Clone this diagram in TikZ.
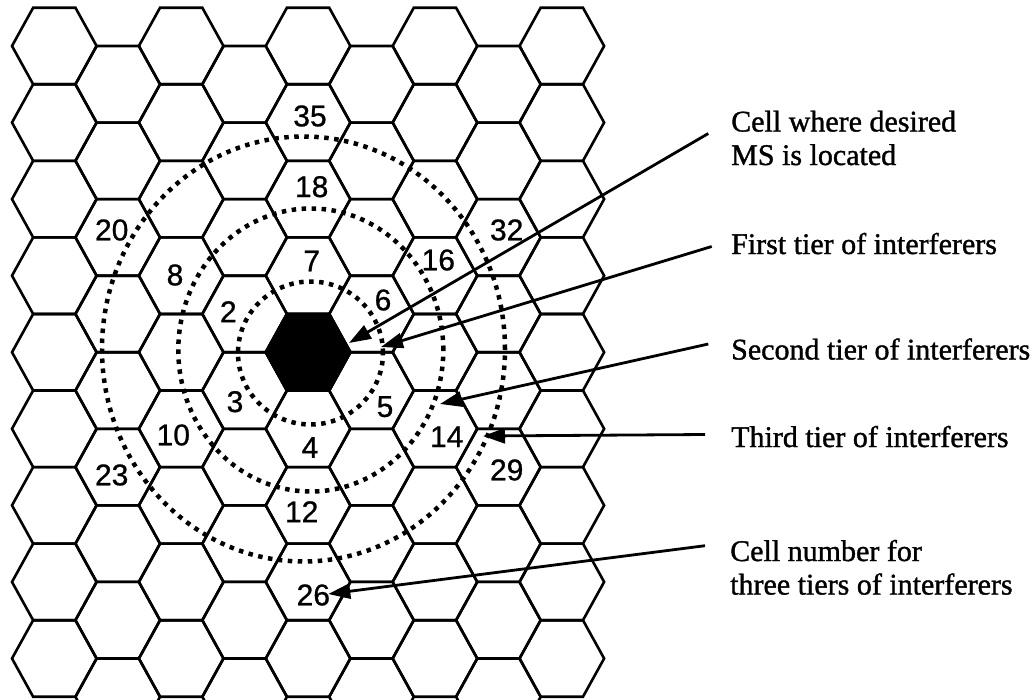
\documentclass[tikz,border=0pt]{standalone}
\usepackage{fontspec}
\setmainfont{Liberation Serif}
\newfontfamily\legendfont[FakeBold=1.2]{Liberation Serif}
\newfontfamily\numfont[FakeBold=0.8]{Liberation Sans}
\usetikzlibrary{arrows.meta}
\begin{document}
\begin{tikzpicture}[x=1pt,y=-1pt,
  cell/.style={draw=black,line width=2.6pt},
  mscell/.style={cell,fill=black},
  tier/.style={draw=black,line width=4.5pt,dash pattern=on 4.5pt off 5.5pt},
  pointer/.style={draw=black,line width=2.8pt,-{Triangle[length=22pt,width=15pt]}},
  cellno/.style={font=\numfont\fontsize{30}{30}\selectfont,inner sep=0pt},
  legend/.style={font=\legendfont\fontsize{30}{33}\selectfont,inner sep=0pt,anchor=base west}]

\useasboundingbox (0,0) rectangle (1036,699);
\def\hexR{42.3}
\def\hexH{38.28}
\def\colstep{63.44}
\def\rowstep{76.56}

% hexagonal cell grid (flat-top cells, odd columns shifted down by half a cell)
\begin{scope}
  \clip (0,0) rectangle (1036,699);
  \foreach \i in {0,...,8}{
    \pgfmathsetmacro\cx{54.3+\colstep*\i}
    \pgfmathsetmacro\oy{mod(\i,2)==1 ? 84.3 : 46}
    \foreach \k in {0,...,8}{
      \pgfmathsetmacro\cy{\oy+\rowstep*\k}
      \draw[cell] (\cx-\hexR,\cy) -- ++(\hexR/2,-\hexH) -- ++(\hexR,0)
        -- ++(\hexR/2,\hexH) -- ++(-\hexR/2,\hexH) -- ++(-\hexR,0) -- cycle;
    }
  }
\end{scope}

% cell of the desired mobile station
\draw[mscell] (308.1-\hexR,352.2) -- ++(\hexR/2,-\hexH) -- ++(\hexR,0)
  -- ++(\hexR/2,\hexH) -- ++(-\hexR/2,\hexH) -- ++(-\hexR,0) -- cycle;

% tiers of interferers
\draw[tier] (310.5,353) ellipse [x radius=72.5pt, y radius=71.5pt];
\draw[tier] (310.8,350) ellipse [x radius=132.5pt, y radius=141.5pt];
\draw[tier] (303.5,349) ellipse [x radius=201.5pt, y radius=212.5pt];

% cell numbers
\node[cellno] (n2)  at (228.3,311.7) {2};
\node[cellno] (n3)  at (235,401.7) {3};
\node[cellno] (n4)  at (310,447.5) {4};
\node[cellno] (n5)  at (385,406.7) {5};
\node[cellno] (n6)  at (383,300) {6};
\node[cellno] (n7)  at (311.7,261) {7};
\node[cellno] (n8)  at (175,275) {8};
\node[cellno] (n10) at (173.3,435) {10};
\node[cellno] (n12) at (301.7,511.7) {12};
\node[cellno] (n14) at (446.7,436.7) {14};
\node[cellno] (n16) at (438.3,260) {16};
\node[cellno] (n18) at (311.7,186.7) {18};
\node[cellno] (n20) at (111.7,230) {20};
\node[cellno] (n23) at (111.7,475) {23};
\node[cellno] (n26) at (313.3,595) {26};
\node[cellno] (n29) at (506.7,470) {29};
\node[cellno] (n32) at (506.7,230) {32};
\node[cellno] (n35) at (310,116) {35};

% legend texts
\node[legend] (l1a) at (731,131.5) {Cell where desired};
\node[legend] (l1b) at (731,165) {MS is located};
\node[legend] (l2)  at (731,254) {First tier of interferers};
\node[legend] (l3)  at (731,359.5) {Second tier of interferers};
\node[legend] (l4)  at (731,447) {Third tier of interferers};
\node[legend] (l5a) at (730,561) {Cell number for};
\node[legend] (l5b) at (730,594.5) {three tiers of interferers};

% pointer lines
\coordinate (a1) at (708.3,133.5);  \coordinate (b1) at (349,343);
\coordinate (a2) at (711.7,246.5);  \coordinate (b2) at (381,347);
\coordinate (a3) at (708.3,344);    \coordinate (b3) at (440,404);
\coordinate (a4) at (705,434.5);    \coordinate (b4) at (483,436);
\coordinate (a5) at (705,545.7);    \coordinate (b5) at (328.3,594);
\draw[pointer] (a1) -- (b1);
\draw[pointer] (a2) -- (b2);
\draw[pointer] (a3) -- (b3);
\draw[pointer] (a4) -- (b4);
\draw[pointer] (a5) -- (b5);
\end{tikzpicture}
\end{document}
